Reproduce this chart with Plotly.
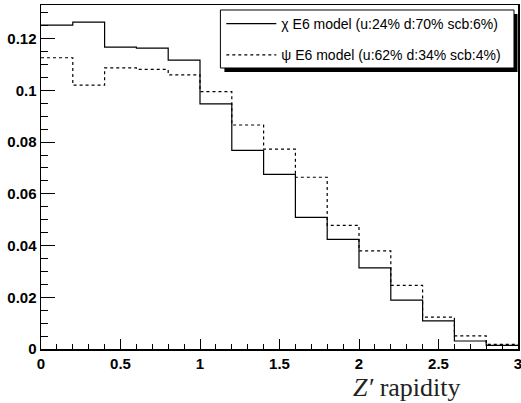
import plotly.graph_objects as go

bin_edges = [0.0, 0.2, 0.4, 0.6, 0.8, 1.0, 1.2, 1.4, 1.6, 1.8, 2.0, 2.2, 2.4, 2.6, 2.8, 3.0]
chi_values = [0.1252, 0.1264, 0.1167, 0.1163, 0.1117, 0.0948, 0.0768, 0.0675,
              0.0509, 0.0424, 0.0314, 0.0189, 0.0109, 0.0031, 0.0014]
psi_values = [0.1126, 0.1020, 0.1087, 0.1081, 0.1060, 0.0995, 0.0866, 0.0773,
              0.0664, 0.0478, 0.0379, 0.0246, 0.0123, 0.0051, 0.0018]
chi_label = "χ E6 model (u:24% d:70% scb:6%)"
psi_label = "ψ E6 model (u:62% d:34% scb:4%)"
y_ticks = [0, 0.02, 0.04, 0.06, 0.08, 0.1, 0.12]
x_ticks = [0, 0.5, 1, 1.5, 2, 2.5, 3]

fig = go.Figure()
fig.add_trace(go.Scatter(
    x=bin_edges, y=chi_values + [chi_values[-1]], mode="lines",
    line=dict(shape="hv", color="black", width=1.2),
    name=chi_label, legendgroup="a"))
fig.add_trace(go.Scatter(
    x=bin_edges, y=psi_values + [psi_values[-1]], mode="lines",
    line=dict(shape="hv", color="black", width=1.2, dash="3px,3px"),
    name=psi_label, legendgroup="b"))

tickfont = dict(family="Liberation Sans", size=15, color="black", weight="bold")
fig.update_layout(
    width=521, height=403,
    margin=dict(l=41, r=3, t=5, b=54),
    paper_bgcolor="white", plot_bgcolor="white",
    showlegend=True,
    legend=dict(x=0.378, y=0.9913, xanchor="left", yanchor="top",
                bgcolor="rgba(0,0,0,0)", borderwidth=0,
                font=dict(family="Liberation Sans", size=14, color="black"),
                tracegroupgap=10, itemwidth=50),
    xaxis=dict(range=[0, 3], tickvals=x_ticks, ticks="inside", ticklen=10,
               tickcolor="black", showline=True, linecolor="black", linewidth=1.5,
               mirror=True, showgrid=False, zeroline=False, tickfont=tickfont,
               automargin=False, ticklabeloverflow="allow",
               minor=dict(ticks="inside", dtick=0.1, ticklen=5, tickcolor="black")),
    yaxis=dict(range=[0, 0.133], tickvals=y_ticks, ticks="inside", ticklen=14,
               tickcolor="black", showline=True, linecolor="black", linewidth=1.5,
               mirror=True, showgrid=False, zeroline=False, tickfont=tickfont,
               automargin=False, ticklabeloverflow="allow",
               minor=dict(ticks="inside", dtick=0.005, ticklen=7, tickcolor="black")),
    shapes=[dict(type="rect", xref="paper", yref="paper",
                 x0=0.3845, x1=0.999, y0=0.8052, y1=0.9738,
                 fillcolor="black", line=dict(width=0), layer="above"),
            dict(type="rect", xref="paper", yref="paper",
                 x0=0.3761, x1=0.9916, y0=0.8169, y1=0.9855,
                 fillcolor="white", line=dict(color="black", width=1), layer="above")],
    annotations=[dict(text="<i>Z′</i> rapidity", xref="paper", yref="paper",
                      x=0.884, y=-0.0625, xanchor="right", yanchor="top",
                      showarrow=False,
                      font=dict(family="Liberation Serif", size=26, color="#222"))],
)
fig.write_html("out.html", config={"displayModeBar": False, "staticPlot": True},
               post_script="document.body.style.margin='0';document.body.style.overflow='hidden';")
